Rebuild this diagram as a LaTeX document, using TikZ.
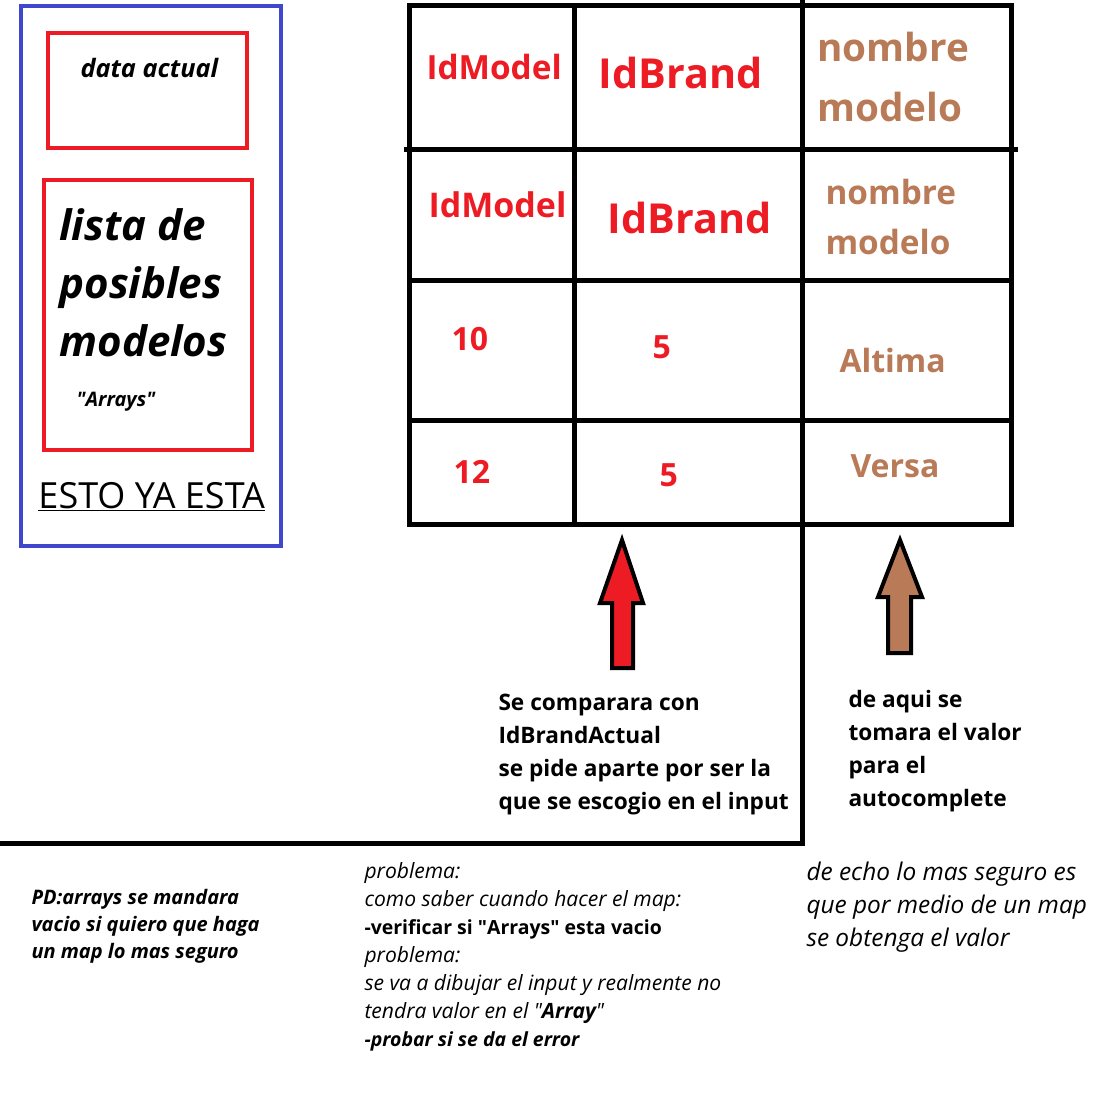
\documentclass[tikz,border=0pt]{standalone}
\usepackage{fontspec}
\setmainfont{Open Sans}

\definecolor{paintred}{RGB}{237,28,36}
\definecolor{paintbrown}{RGB}{185,122,87}
\definecolor{paintblue}{RGB}{63,72,204}

\tikzset{every picture/.style={line width=0.75pt}}
\tikzset{
  gridline/.style={line width=3.75pt, line cap=rect},
  redtxt/.style={text=paintred, font=\bfseries},
  browntxt/.style={text=paintbrown, font=\bfseries},
  blockarrow/.style={draw=black, line width=3pt, line join=miter},
}
\newcommand{\boldnote}[1]{{\fontsize{14.6}{21}\selectfont\bfseries #1}}

\begin{document}
\begin{tikzpicture}[x=0.75pt,y=0.75pt,yscale=-1,xscale=1]
        \useasboundingbox (0,0) rectangle (1110,1109);

        %Shape: Rectangle [blue frame]
        \draw [color=paintblue, line width=3pt]  (21,6) -- (281,6) -- (281,546) -- (21,546) -- cycle ;
        %Shape: Rectangle [data actual]
        \draw [color=paintred, line width=3.5pt]  (48,33) -- (247,33) -- (247,148) -- (48,148) -- cycle ;
        %Shape: Rectangle [lista]
        \draw [color=paintred, line width=3.5pt]  (44,180) -- (252,180) -- (252,450) -- (44,450) -- cycle ;

        %Straight Lines [table rows]
        \draw [gridline]   (409,6) -- (1011,6) ;
        \draw [gridline]   (406,150) -- (1015,150) ;
        \draw [gridline]   (409,281) -- (1011,281) ;
        \draw [gridline]   (409,420) -- (1011,420) ;
        \draw [gridline]   (409,524) -- (1011,524) ;
        %Straight Lines [table columns]
        \draw [gridline]   (409,6) -- (409,524) ;
        \draw [gridline]   (574,6) -- (574,524) ;
        \draw [gridline]   (1011,6) -- (1011,524) ;
        \draw [gridline]   (802,0) -- (802,843) ;
        %Straight Lines [divider]
        \draw [gridline]   (0,843) -- (802,843) ;

        %Shape: Up Arrow [red]
        \draw [blockarrow, fill=paintred]  (622,540) -- (643,603) -- (633,603) -- (633,668) -- (612,668) -- (612,603) -- (600,603) -- cycle ;
        %Shape: Up Arrow [brown]
        \draw [blockarrow, fill=paintbrown]  (900,540) -- (922,597) -- (911,597) -- (911,653) -- (888,653) -- (888,597) -- (878,597) -- cycle ;

        % Text Node
        \draw (79,78) node [anchor=base west][inner sep=0.75pt] [font=\fontsize{19}{23}\selectfont\bfseries\itshape] (dataactual) {data actual};
        % Text Node
        \draw (58,356) node [anchor=base west][inner sep=0.75pt] [align=left, font=\fontsize{31.5}{43.5}\selectfont\bfseries\itshape] (lista) {lista de\\posibles\\modelos};
        % Text Node
        \draw (75,406) node [anchor=base west][inner sep=0.75pt] [font=\fontsize{15}{18}\selectfont\bfseries\itshape] (arrays) {\textquotedbl Arrays\textquotedbl};
        % Text Node
        \draw (37,508) node [anchor=base west][inner sep=0.75pt] [font=\fontsize{27}{30}\selectfont] (yaesta) {\underline{ESTO YA ESTA}};

        % Text Node
        \draw (425,80) node [anchor=base west][inner sep=0.75pt] [redtxt, font=\fontsize{25}{30}\selectfont\bfseries] (idmodelA) {IdModel};
        % Text Node
        \draw (597,89) node [anchor=base west][inner sep=0.75pt] [redtxt, font=\fontsize{31}{36}\selectfont\bfseries] (idbrandA) {IdBrand};
        % Text Node
        \draw (816,122) node [anchor=base west][inner sep=0.75pt] [browntxt, align=left, font=\fontsize{29}{45}\selectfont\bfseries] (nombreA) {nombre\\modelo};
        % Text Node
        \draw (427,218) node [anchor=base west][inner sep=0.75pt] [redtxt, font=\fontsize{25.5}{30}\selectfont\bfseries] (idmodelB) {IdModel};
        % Text Node
        \draw (606,234) node [anchor=base west][inner sep=0.75pt] [redtxt, font=\fontsize{31}{36}\selectfont\bfseries] (idbrandB) {IdBrand};
        % Text Node
        \draw (824,255) node [anchor=base west][inner sep=0.75pt] [browntxt, align=left, font=\fontsize{25}{38}\selectfont\bfseries] (nombreB) {nombre\\modelo};
        % Text Node
        \draw (450,350) node [anchor=base west][inner sep=0.75pt] [redtxt, font=\fontsize{24}{28}\selectfont\bfseries] (idten) {10};
        % Text Node
        \draw (651,358) node [anchor=base west][inner sep=0.75pt] [redtxt, font=\fontsize{24}{28}\selectfont\bfseries] (brandA) {5};
        % Text Node
        \draw (838,372) node [anchor=base west][inner sep=0.75pt] [browntxt, font=\fontsize{24}{28}\selectfont\bfseries] (altima) {Altima};
        % Text Node
        \draw (452,483) node [anchor=base west][inner sep=0.75pt] [redtxt, font=\fontsize{24}{28}\selectfont\bfseries] (idtwelve) {12};
        % Text Node
        \draw (658,486) node [anchor=base west][inner sep=0.75pt] [redtxt, font=\fontsize{24}{28}\selectfont\bfseries] (brandB) {5};
        % Text Node
        \draw (849,477) node [anchor=base west][inner sep=0.75pt] [browntxt, font=\fontsize{24}{28}\selectfont\bfseries] (versa) {Versa};

        % Text Node
        \draw (497,809) node [anchor=base west][inner sep=0.75pt] [align=left, font=\fontsize{17}{24.75}\selectfont\bfseries] (compara) {Se comparara con\\IdBrandActual\\se pide aparte por ser la\\que se escogio en el input};
        % Text Node
        \draw (847,806) node [anchor=base west][inner sep=0.75pt] [align=left, font=\fontsize{17}{24.75}\selectfont\bfseries] (deaqui) {de aqui se\\tomara el valor\\para el\\autocomplete};
        % Text Node
        \draw (30,958) node [anchor=base west][inner sep=0.75pt] [align=left, font=\fontsize{15}{20}\selectfont\bfseries\itshape] (pdnote) {PD:arrays se mandara\\vacio si quiero que haga\\un map lo mas seguro};
        % Text Node
        \draw (363,1046) node [anchor=base west][inner sep=0.75pt] [align=left, font=\fontsize{15.8}{21}\selectfont\itshape] (problema) {problema:\\como saber cuando hacer el map:\\\boldnote{\upshape -verificar si \textquotedbl Arrays\textquotedbl{} esta vacio}\\problema:\\se va a dibujar el input y realmente no\\tendra valor en el \textquotedbl\textbf{Array}\textquotedbl\\\boldnote{-probar si se da el error}};
        % Text Node
        \draw (805,946) node [anchor=base west][inner sep=0.75pt] [align=left, font=\fontsize{18.3}{24.75}\selectfont\itshape] (deecho) {de echo lo mas seguro es\\que por medio de un map\\se obtenga el valor};
\end{tikzpicture}
\end{document}
